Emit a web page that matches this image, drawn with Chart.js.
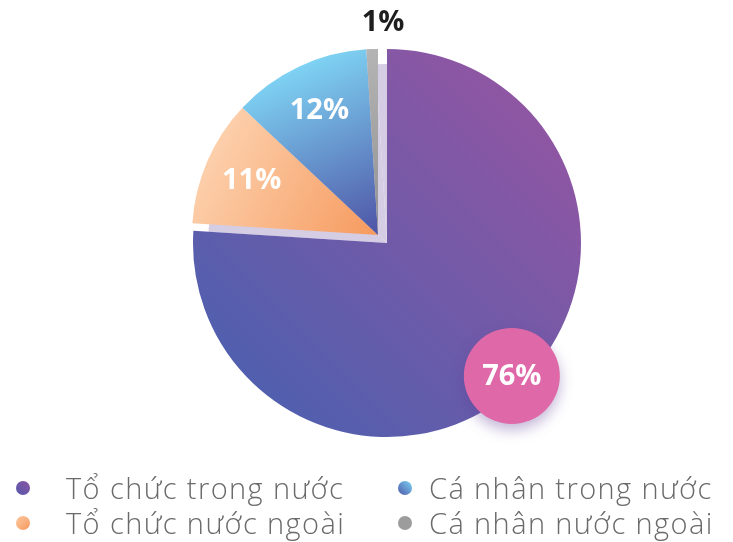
<!DOCTYPE html>
<html>
<head>
<meta charset="utf-8">
<script src="https://cdn.jsdelivr.net/npm/chart.js@4/dist/chart.umd.min.js"></script>
<style>
  html, body { margin: 0; background: #fff; }
  #wrap { position: relative; width: 733px; height: 542px; overflow: hidden; }
  #box { position: absolute; left: 0; top: 0; width: 733px; height: 470px; }
  #legend {
    position: absolute; left: 0; top: 470px; width: 733px;
    display: grid; grid-template-columns: 382px 351px; grid-auto-rows: 35px;
    font-family: 'Open Sans', sans-serif; font-weight: 300; font-size: 29px;
    letter-spacing: 1.4px; color: #6a6a6a;
  }
  .item { display: flex; align-items: center; white-space: nowrap; }
  .item:nth-child(odd)  { padding-left: 16px; gap: 36px; }
  .item:nth-child(even) { padding-left: 16px; gap: 17px; }
  .dot { width: 14px; height: 14px; border-radius: 50%; flex: none; }
</style>
</head>
<body>
<div id="wrap">
  <div id="box"><canvas id="chart"></canvas></div>
  <div id="legend"></div>
</div>
<script>
// ---- data ----
const categories = ['Tổ chức trong nước', 'Tổ chức nước ngoài', 'Cá nhân trong nước', 'Cá nhân nước ngoài'];
const shares     = [76, 11, 12, 1];
const legendOrder = [0, 2, 1, 3];   // legend reads row by row

// gradient stops per slice (light/start -> end)
const sliceFrom = ['#8e56a3', '#fdd6b5', '#80d7f6', '#b4b4b4'];
const sliceTo   = ['#515fae', '#f69a5e', '#4e54a5', '#909090'];
const dotCss = [
  'linear-gradient(45deg,#5558ad,#8c55a3)',
  'linear-gradient(135deg,#fcc8a0,#f6995d)',
  'linear-gradient(45deg,#5058a8,#7ad3f4)',
  '#9c9c9c'
];

// small quarter slices are lifted up-left off the big one
const LIFT_X = 9, LIFT_Y = 8, LIFT_R = 8;

/* slice gradient, direction depends on slice */
function sliceFill(c) {
  const i = c.dataIndex;
  const a = c.chart.chartArea;
  if (!a) return sliceFrom[i];
  const cx = (a.left + a.right) / 2, cy = (a.top + a.bottom) / 2;
  const r = Math.min(a.right - a.left, a.bottom - a.top) / 2;
  const ctx = c.chart.ctx;
  let g;
  if (i === 0) g = ctx.createLinearGradient(cx + r * 0.7, cy - r * 0.7, cx - r * 0.7, cy + r * 0.7);
  else if (i === 1) g = ctx.createLinearGradient(cx - r, cy - r * 0.55, cx - LIFT_X, cy - LIFT_Y);
  else if (i === 2) g = ctx.createLinearGradient(cx - r * 0.45, cy - r * 0.95, cx - LIFT_X, cy - LIFT_Y);
  else g = ctx.createLinearGradient(cx, cy - r, cx, cy);
  g.addColorStop(0, sliceFrom[i]);
  g.addColorStop(1, sliceTo[i]);
  return g;
}

// ------- plugin: lift the small slices + lavender shadow + labels -------
const quarterLift = {
  id: 'quarterLift',
  afterDatasetUpdate(chart, args) {
    const meta = chart.getDatasetMeta(args.index);
    meta.data.forEach((arc, i) => {
      if (i === 0) return;
      arc.x -= LIFT_X; arc.y -= LIFT_Y; arc.outerRadius -= LIFT_R;
    });
  },
  beforeDatasetDraw(chart, args) {
    const ctx = chart.ctx;
    ctx.save();
    ctx.fillStyle = '#d5cde4';
    args.meta.data.forEach((arc, i) => {
      if (i === 0) return;
      const x = arc.x + LIFT_X, y = arc.y + LIFT_Y;
      ctx.beginPath();
      ctx.moveTo(x, y);
      ctx.arc(x, y, arc.outerRadius - 7, arc.startAngle, arc.endAngle);
      ctx.closePath();
      ctx.fill();
    });
    ctx.restore();
  },
  afterDatasetsDraw(chart) {
    const ctx = chart.ctx;
    const arcs = chart.getDatasetMeta(0).data;
    ctx.save();
    ctx.textAlign = 'center';
    ctx.textBaseline = 'middle';
    ctx.font = 'bold 29px "Open Sans", sans-serif';
    arcs.forEach((arc, i) => {
      const mid = (arc.startAngle + arc.endAngle) / 2;
      const txt = shares[i] + '%';
      if (i === 0) {
        const bx = arc.x + Math.cos(mid) * arc.outerRadius * 0.94;
        const by = arc.y + Math.sin(mid) * arc.outerRadius * 0.94;
        ctx.save();
        ctx.shadowColor = 'rgba(95,60,150,0.38)';
        ctx.shadowBlur = 14;
        ctx.shadowOffsetY = 6;
        ctx.fillStyle = '#df69a8';
        ctx.beginPath();
        ctx.arc(bx, by, 48, 0, Math.PI * 2);
        ctx.fill();
        ctx.restore();
        ctx.fillStyle = '#ffffff';
        ctx.fillText(txt, bx, by + 1);
      } else if (i === 3) {
        ctx.fillStyle = '#1e1e1e';
        ctx.fillText(txt, arc.x + 5, arc.y - arc.outerRadius - 26);
      } else {
        const rr = arc.outerRadius * 0.74;
        ctx.fillStyle = '#ffffff';
        ctx.fillText(txt, arc.x + Math.cos(mid) * rr, arc.y + Math.sin(mid) * rr);
      }
    });
    ctx.restore();
  }
};

new Chart(document.getElementById('chart'), {
  type: 'pie',
  data: {
    labels: categories,
    datasets: [{
      data: shares,
      backgroundColor: sliceFill,
      borderWidth: 0
    }]
  },
  options: {
    responsive: true,
    maintainAspectRatio: false,
    animation: false,
    layout: { padding: { left: 41, top: 49, bottom: 33 } },
    plugins: { legend: { display: false }, tooltip: { enabled: false } }
  },
  plugins: [quarterLift]
});

// html legend, two columns
document.getElementById('legend').innerHTML = legendOrder.map(i =>
  `<div class="item"><span class="dot" style="background:${dotCss[i]}"></span><span>${categories[i]}</span></div>`
).join('');
</script>
</body>
</html>
